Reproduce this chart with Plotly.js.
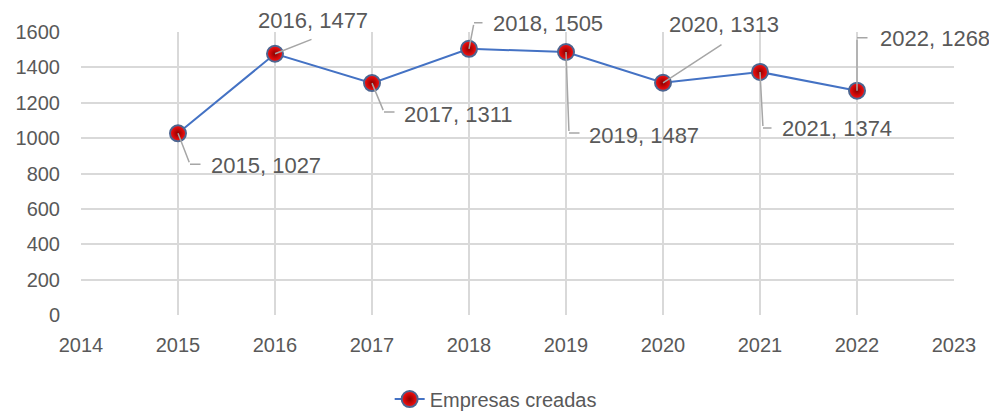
<!DOCTYPE html>
<html>
<head>
<meta charset="utf-8">
<script src="https://cdn.plot.ly/plotly-3.0.1.min.js"></script>
<style>html,body{margin:0;padding:0;background:#fff;}#chart{width:989px;height:411px;}</style>
</head>
<body>
<div id="chart"></div>
<script>
// Data
const years = [2015, 2016, 2017, 2018, 2019, 2020, 2021, 2022];
const empresasCreadas = [1027, 1477, 1311, 1505, 1487, 1313, 1374, 1268];
const seriesName = 'Empresas creadas';
const xTickVals = [2014, 2015, 2016, 2017, 2018, 2019, 2020, 2021, 2022, 2023];
const yTickVals = [0, 200, 400, 600, 800, 1000, 1200, 1400, 1600];

// Label placement (pixel offsets from each point): leader corner, elbow length, text position
const leaderCorner = [[12,31],[38,-15],[12,29],[5,-26],[3,81],[60,-39],[3,56],[0,-53]];
const elbowLen = [12,0,12,10,12,0,10,12];
const textPos = [[31,32,'left'],[38,-33,'center'],[30,31,'left'],[22,-25,'left'],[21,84,'left'],[61,-58,'center'],[20,57,'left'],[21,-52,'left']];

const FONT = 'Liberation Sans, Arial, sans-serif';
const TXT = '#595959';
const LEAD = '#a6a6a6';

const annotations = [];
years.forEach((yr, i) => {
  const v = empresasCreadas[i];
  const [cdx, cdy] = leaderCorner[i];
  annotations.push({x: yr, y: v, xref: 'x', yref: 'y', text: ' ', font: {size: 1},
    showarrow: true, arrowhead: 0, arrowwidth: 1.5, arrowcolor: LEAD, ax: cdx, ay: cdy, standoff: 0});
  if (elbowLen[i] > 0) {
    annotations.push({x: yr, y: v, xref: 'x', yref: 'y', text: ' ', font: {size: 1},
      xshift: cdx, yshift: -cdy,
      showarrow: true, arrowhead: 0, arrowwidth: 1.5, arrowcolor: LEAD, ax: elbowLen[i], ay: 0, standoff: 0});
  }
  const [tdx, tdy, anc] = textPos[i];
  annotations.push({x: yr, y: v, xref: 'x', yref: 'y', text: yr + ', ' + v,
    showarrow: false, xshift: tdx, yshift: -tdy, xanchor: anc, yanchor: 'middle',
    font: {family: FONT, size: 22, color: TXT}});
});

const trace = {
  x: years, y: empresasCreadas, name: seriesName, type: 'scatter', mode: 'lines+markers',
  line: {color: '#4472C4', width: 2},
  marker: {size: 16, color: '#ff1010', gradient: {type: 'radial', color: '#8a0000'},
    line: {color: '#4d6590', width: 2}}
};

const layout = {
  width: 989, height: 411,
  margin: {l: 81, r: 35, t: 32, b: 96, autoexpand: false},
  paper_bgcolor: '#ffffff', plot_bgcolor: '#ffffff',
  font: {family: FONT, color: TXT, size: 20},
  showlegend: true,
  legend: {orientation: 'h', x: 0.475, xanchor: 'center', y: -0.297, yanchor: 'middle',
    font: {family: FONT, size: 20, color: TXT}},
  xaxis: {range: [2014, 2023], tickvals: xTickVals, ticktext: xTickVals.map(String),
    showgrid: true, gridcolor: '#d9d9d9', gridwidth: 2, zeroline: false, showline: false,
    ticks: 'outside', ticklen: 12, tickcolor: 'rgba(0,0,0,0)',
    tickfont: {family: FONT, size: 20, color: TXT}},
  yaxis: {range: [0, 1600], tickvals: yTickVals, ticktext: yTickVals.map(String),
    showgrid: true, gridcolor: '#d9d9d9', gridwidth: 2, zeroline: false, showline: false,
    ticks: 'outside', ticklen: 16, tickcolor: 'rgba(0,0,0,0)',
    tickfont: {family: FONT, size: 20, color: TXT}},
  annotations: annotations
};

Plotly.newPlot('chart', [trace], layout, {displayModeBar: false, staticPlot: true});
</script>
</body>
</html>
